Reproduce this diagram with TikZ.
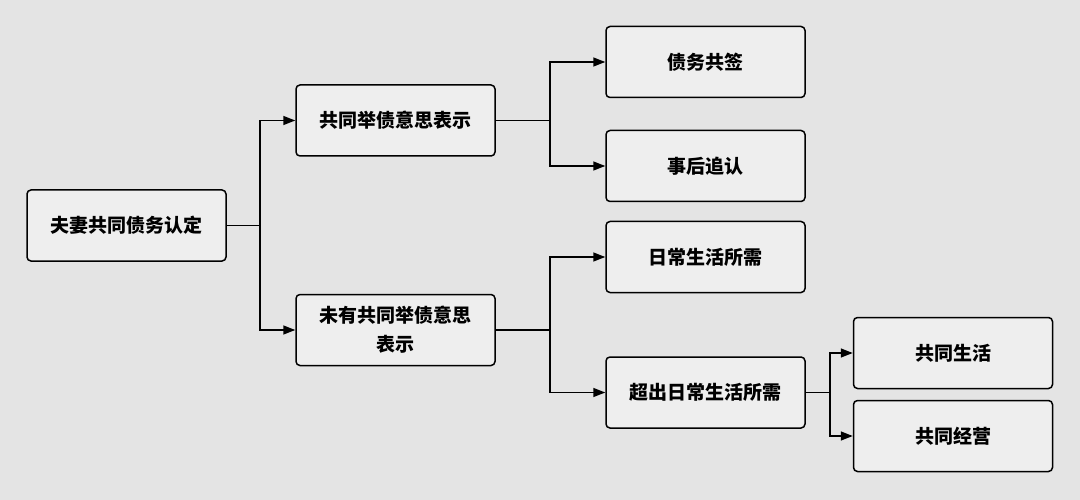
\documentclass[tikz,border=0pt]{standalone}
\usepackage{fontspec}
\setmainfont{Noto Sans CJK SC}
\usetikzlibrary{arrows.meta}
\definecolor{bg}{HTML}{E4E4E4}
\definecolor{boxfill}{HTML}{EEEEEE}
\tikzset{
  box/.style={draw=black, fill=boxfill, line width=1.5pt, rounded corners=4pt,
    minimum width=199pt, minimum height=71pt, inner sep=2pt, align=center,
    font=\fontsize{19}{29}\selectfont\bfseries},
  conn/.style={line width=1.5pt, black},
  arr/.style={conn, -{Triangle[length=12pt,width=9pt]}},
}
\begin{document}
\begin{tikzpicture}[x=1pt,y=-1pt]
\fill[bg] (0,0) rectangle (1080,500);
\useasboundingbox (0,0) rectangle (1080,500);
\node[box] (root) at (126.5,225.5) {夫妻共同债务认定};
\node[box] (a) at (395.5,120.5) {共同举债意思表示};
\node[box] (b) at (395.5,330) {未有共同举债意思\\表示};
\node[box] (a1) at (705.5,62) {债务共签};
\node[box] (a2) at (705.5,166) {事后追认};
\node[box] (b1) at (705.5,257) {日常生活所需};
\node[box] (b2) at (705.5,392.5) {超出日常生活所需};
\node[box] (c1) at (953,353) {共同生活};
\node[box] (c2) at (953,436) {共同经营};
\coordinate (j0) at (260,225.5);
\coordinate (j1) at (550,120.5);
\coordinate (j2) at (550,330);
\coordinate (j3) at (830,392.5);
\draw[conn] (root.east) -- (j0);
\draw[arr] (j0) |- (a.west);
\draw[arr] (j0) |- (b.west);
\draw[conn] (a.east) -- (j1);
\draw[arr] (j1) |- (a1.west);
\draw[arr] (j1) |- (a2.west);
\draw[conn] (b.east) -- (j2);
\draw[arr] (j2) |- (b1.west);
\draw[arr] (j2) |- (b2.west);
\draw[conn] (b2.east) -- (j3);
\draw[arr] (j3) |- (c1.west);
\draw[arr] (j3) |- (c2.west);
\end{tikzpicture}
\end{document}
